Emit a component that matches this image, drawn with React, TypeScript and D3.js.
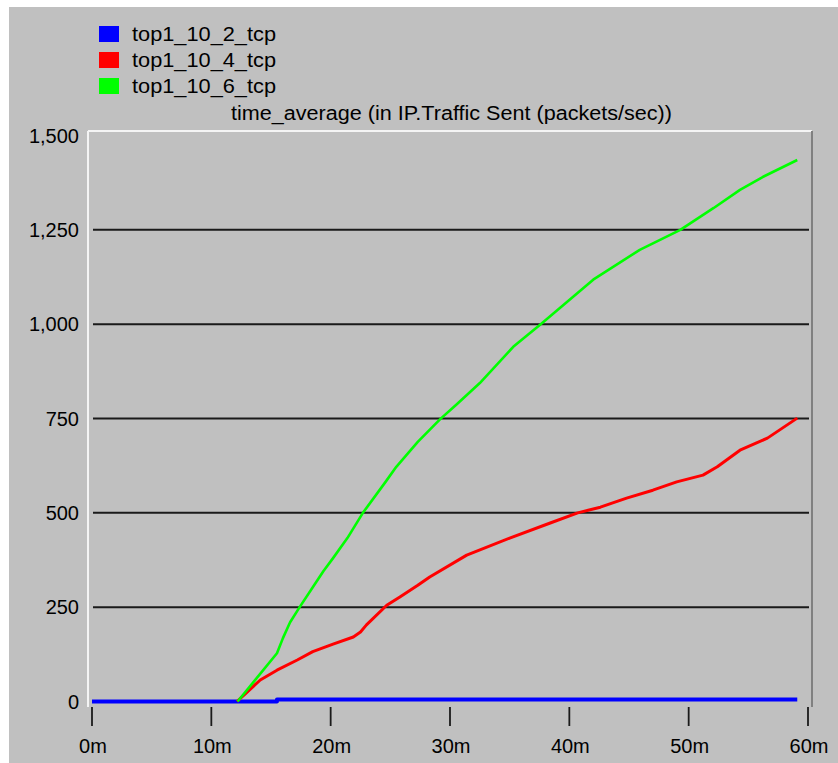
import React from "react";
import * as d3 from "d3";

const seriesNames = ["top1_10_2_tcp", "top1_10_4_tcp", "top1_10_6_tcp"];
const seriesColors = ["#0000ff", "#ff0000", "#00ff00"];

const blueT = [0, 15.5, 15.5, 59.1];
const blueV = [0, 0, 5, 5];

const redT = [12.15, 13.0, 14.1, 15.5, 17.2, 18.5, 20.2, 21.9, 22.5, 23.0, 24.7, 25.8, 27.3, 28.3, 31.4, 35.0, 38.4, 40.7, 42.6, 44.8, 47.0, 49.0, 51.2, 52.4, 54.3, 56.6, 59.1];
const redV = [0, 25, 57, 83, 110, 132, 152, 171, 184, 203, 255, 277, 308, 330, 388, 433, 473, 500, 515, 539, 560, 582, 600, 622, 666, 698, 751];

const greenT = [12.2, 13.8, 15.5, 16.0, 16.6, 17.4, 18.5, 19.4, 20.2, 21.4, 22.7, 24.6, 25.5, 27.3, 29.2, 30.5, 32.5, 35.3, 37.6, 39.8, 42.0, 45.9, 49.3, 52.1, 54.3, 56.2, 59.1];
const greenV = [0, 62, 128, 168, 210, 250, 303, 346, 380, 433, 500, 582, 622, 688, 749, 786, 844, 940, 1000, 1059, 1118, 1197, 1250, 1308, 1356, 1390, 1435];

const yTicks = [0, 250, 500, 750, 1000, 1250, 1500];
const xTicks = [0, 10, 20, 30, 40, 50, 60];
const title = "time_average (in IP.Traffic Sent (packets/sec))";

const W = 838;
const H = 763;
const FONT = "'Liberation Sans', Arial, sans-serif";

export default function App() {
  const x = d3.scaleLinear().domain([0, 60]).range([92, 808]);
  const y = d3.scaleLinear().domain([0, 1500]).range([701.5, 135.5]);
  const line = d3
    .line<[number, number]>()
    .x((d) => x(d[0]))
    .y((d) => y(d[1]));

  const series = [
    { t: blueT, v: blueV, w: 4 },
    { t: redT, v: redV, w: 3 },
    { t: greenT, v: greenV, w: 2.6 },
  ];

  const plotL = 88;
  const plotR = 812;
  const plotT = 131;
  const plotB = 707;
  const fmt = d3.format(",");

  return (
    <div style={{ position: "fixed", left: 0, top: 0 }}>
      <svg width={W} height={H} style={{ display: "block" }}>
        <rect x={0} y={0} width={W} height={H} fill="#ffffff" />
        <rect x={9} y={7} width={W - 9} height={H - 7} fill="#c0c0c0" />
        {/* plot frame */}
        <line x1={plotL} y1={plotT} x2={plotR} y2={plotT} stroke="#f4f4f4" strokeWidth={2} />
        <line x1={plotL} y1={plotT} x2={plotL} y2={plotB} stroke="#f4f4f4" strokeWidth={2} />
        <line x1={plotR} y1={plotT} x2={plotR} y2={plotB} stroke="#808080" strokeWidth={2} />
        {/* gridlines */}
        {yTicks
          .filter((v) => v > 0 && v < 1500)
          .map((v) => (
            <line key={v} x1={93} x2={809} y1={y(v)} y2={y(v)} stroke="#1a1a1a" strokeWidth={2} />
          ))}
        {/* y labels */}
        {yTicks.map((v) => (
          <text
            key={v}
            x={79}
            y={y(v)}
            dy="0.36em"
            textAnchor="end"
            fontFamily={FONT}
            fontSize={20}
            fill="#000"
          >
            {fmt(v)}
          </text>
        ))}
        {/* x ticks */}
        {xTicks.map((t) => (
          <g key={t}>
            <line x1={x(t)} x2={x(t)} y1={707} y2={726} stroke="#1a1a1a" strokeWidth={1.8} />
            <text x={x(t) + 1} y={753} textAnchor="middle" fontFamily={FONT} fontSize={20} fill="#000">
              {t + "m"}
            </text>
          </g>
        ))}
        {/* series */}
        {series.map((s, i) => (
          <path
            key={i}
            d={line(s.t.map((t, j) => [t, s.v[j]] as [number, number])) || ""}
            fill="none"
            stroke={seriesColors[i]}
            strokeWidth={s.w}
            strokeLinejoin="round"
          />
        ))}
        {/* legend */}
        {seriesNames.map((n, i) => (
          <g key={n}>
            <rect x={99} y={26 + i * 26} width={20} height={16} fill={seriesColors[i]} />
            <text
              x={132}
              y={41 + i * 26}
              fontFamily={FONT}
              fontSize={20}
              textLength={144}
              lengthAdjust="spacingAndGlyphs"
              fill="#000"
            >
              {n}
            </text>
          </g>
        ))}
        <text
          x={231}
          y={120}
          fontFamily={FONT}
          fontSize={20}
          textLength={441}
          lengthAdjust="spacingAndGlyphs"
          fill="#000"
        >
          {title}
        </text>
      </svg>
    </div>
  );
}
